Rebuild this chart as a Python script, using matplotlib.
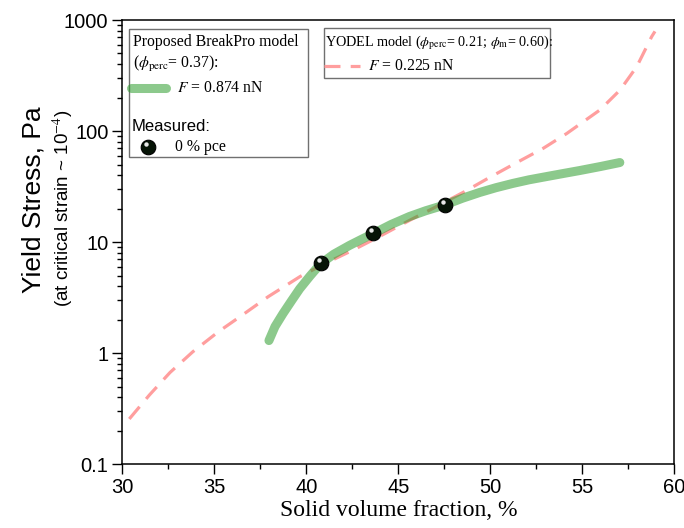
import matplotlib
matplotlib.use("Agg")
import matplotlib.pyplot as plt
import matplotlib.ticker as mticker
from matplotlib.patches import Rectangle
from matplotlib.lines import Line2D
from matplotlib.transforms import offset_copy

plt.rcParams["mathtext.fontset"] = "stix"

# BreakPro model curve (phi_perc = 0.37, F = 0.874 nN)
bp_x = [37.97, 38.3, 38.73, 39.2, 39.64, 40.2, 40.78, 41.5, 42.35, 43.0, 43.62,
        44.6, 45.6, 46.5, 47.52, 48.5, 49.42, 50.3, 51.23, 52.1, 53.04, 54.0,
        54.85, 56.0, 57.04]
bp_y = [1.30, 1.74, 2.27, 2.97, 3.80, 4.95, 6.40, 7.8, 9.35, 10.6, 11.9,
        14.4, 17.0, 19.2, 21.6, 24.9, 28.0, 30.9, 33.8, 36.4, 38.9, 41.6,
        44.1, 48.0, 52.1]

# YODEL model curve (phi_perc = 0.21, phi_m = 0.60, F = 0.225 nN)
yd_x = [30.38, 31.47, 32.59, 33.83, 35.22, 36.58, 37.93, 39.66, 41.0, 42.55,
        44.0, 45.64, 46.9, 48.6, 49.98, 51.43, 52.88, 54.15, 55.96, 57.05,
        57.96, 58.77, 58.95]
yd_y = [0.256, 0.42, 0.67, 1.03, 1.56, 2.24, 3.23, 4.9, 6.4, 8.5,
        11.3, 15.8, 20.2, 28.5, 38.4, 52, 70, 95, 155, 234,
        380, 708, 790]

# measured yield stress, 0 % pce
meas_x = [40.78, 43.62, 47.52]
meas_y = [6.5, 12.0, 21.8]

GREEN = (0.18, 0.62, 0.18)
PINK = "#ff9e9e"

fig = plt.figure(figsize=(6.84, 5.28), dpi=100)
ax = fig.add_axes([122.3 / 684, 1 - 464.3 / 528, 552 / 684, 444.3 / 528])

ax.plot(yd_x, yd_y, color=PINK, lw=2.3, dashes=(5, 3.2), zorder=2)
ax.plot(bp_x, bp_y, color=GREEN, alpha=0.55, lw=6.5, solid_capstyle="round",
        solid_joinstyle="round", zorder=3)
ax.plot(meas_x, meas_y, "o", ms=10.5, color="#061406", mec="black", mew=0.8,
        zorder=4)
hl = offset_copy(ax.transData, fig=fig, x=-1.5, y=3.0, units="dots")
ax.plot(meas_x, meas_y, "o", ms=3.2, color="#e8e8e8", mew=0, transform=hl,
        zorder=5)

ax.set_yscale("log")
ax.set_xlim(30, 60)
ax.set_ylim(0.1, 1000)
ax.xaxis.set_major_locator(mticker.MultipleLocator(5))
ax.xaxis.set_minor_locator(mticker.MultipleLocator(2.5))
ax.yaxis.set_major_formatter(mticker.FuncFormatter(lambda v, p: f"{v:g}"))
ax.yaxis.set_minor_formatter(mticker.NullFormatter())
ax.tick_params(which="both", direction="out", top=False, right=False,
               width=1.0)
ax.tick_params(which="major", length=7, labelsize=14.5, pad=3)
ax.tick_params(which="minor", length=3.8)
for lab in ax.get_xticklabels() + ax.get_yticklabels():
    lab.set_family("Liberation Sans")
for s in ax.spines.values():
    s.set_linewidth(1.1)

ax.set_xlabel("Solid volume fraction, %", family="Liberation Serif",
              fontsize=17, labelpad=2)
fig.text(34 / 684, 1 - 200 / 528, "Yield Stress, Pa", rotation=90,
         ha="center", va="center", family="Liberation Sans", fontsize=19)
fig.text(63 / 684, 1 - 208 / 528, r"(at critical strain ~ 10$^{-4}$)",
         rotation=90, ha="center", va="center", family="Liberation Sans",
         fontsize=13.5)

# legend boxes, drawn in axes fraction
serif = dict(family="Liberation Serif", fontsize=11.3, va="center",
             transform=ax.transAxes, zorder=7)
box_kw = dict(transform=ax.transAxes, fill=False, ec="#707070", lw=1.0,
              zorder=6)
ax.add_patch(Rectangle((0.0127, 0.691), 0.323, 0.288, **box_kw))
ax.add_patch(Rectangle((0.365, 0.870), 0.410, 0.113, **box_kw))

ax.text(0.019, 0.950, "Proposed BreakPro model", **serif)
ax.text(0.019, 0.901, r"($\phi_{\rm perc}$= 0.37):", **serif)
ax.add_line(Line2D([0.016, 0.079], [0.847, 0.847], color=GREEN, alpha=0.55,
                   lw=6.5, solid_capstyle="round", transform=ax.transAxes,
                   zorder=7))
ax.text(0.099, 0.847, r"$\it{F}$ = 0.874 nN", **serif)
ax.text(0.0176, 0.761, "Measured:", family="Liberation Sans", fontsize=12,
        va="center", transform=ax.transAxes, zorder=7)
ax.plot([0.0465], [0.714], "o", ms=10.5, color="#061406", mec="black",
        mew=0.8, transform=ax.transAxes, zorder=7)
hl2 = offset_copy(ax.transAxes, fig=fig, x=-1.5, y=3.0, units="dots")
ax.plot([0.0465], [0.714], "o", ms=3.2, color="#e8e8e8", mew=0,
        transform=hl2, zorder=8)
ax.text(0.0955, 0.714, "0 % pce", **serif)

title2 = dict(serif, fontsize=10.2)
ax.text(0.368, 0.950,
        r"YODEL model ($\phi_{\rm perc}$= 0.21; $\phi_{\rm m}$= 0.60):",
        **title2)
ax.add_line(Line2D([0.366, 0.430], [0.897, 0.897], color=PINK, lw=2.3,
                   dashes=(5, 3.2), transform=ax.transAxes, zorder=7))
ax.text(0.445, 0.897, r"$\it{F}$ = 0.225 nN", **serif)

fig.savefig("out.png", dpi=100, facecolor="white")
